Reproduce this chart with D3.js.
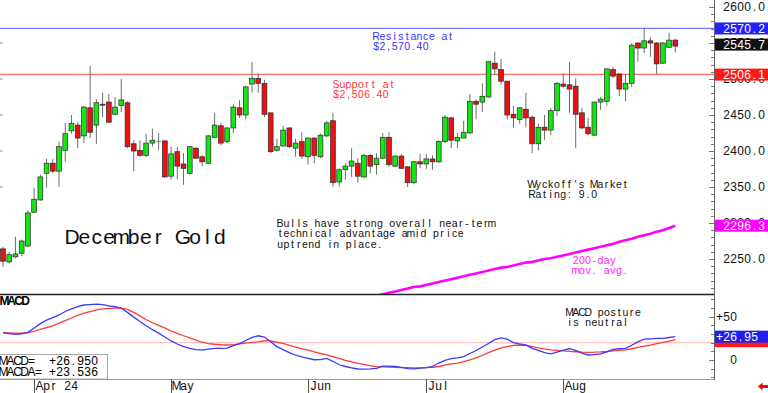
<html>
<head>
<script src="https://d3js.org/d3.v7.min.js"></script>
<style>
body { margin: 0; background: #fff; }
svg text { font-family: 'Liberation Sans', Arial, sans-serif; white-space: pre; }
</style>
</head>
<body>
<div id="chart"></div>
<script>
// daily bars, Mar 22 .. Aug 27 (index 0..108)
var opens  = [2264,2246,2253,2258,2268,2315,2332,2369,2383,2372, 2401,2428,2436,2421,2460,2436,2465,2468,2451,2463,
              2467,2410,2401,2394,2411,2414,2414,2365,2399,2382, 2369,2404,2392,2383,2419,2435,2413,2432,2460,2450,
              2493,2501,2494,2453,2401,2407,2432,2404,2413,2392, 2418,2392,2421,2442,2357,2374,2379,2383,2364,2394,
              2381,2390,2419,2379,2393,2378,2356,2385,2382,2389, 2385,2413,2446,2414,2418,2425,2469,2468,2475,2522,
              2513,2497,2451,2444,2458,2447,2410,2433,2429,2456, 2493,2492,2490,2453,2433,2422,2468,2469,2513,2507,
              2486,2494,2550,2543,2553,2550,2522,2544,2554];
var highs  = [2267,2260,2281,2277,2318,2349,2367,2389,2389,2413, 2439,2450,2440,2463,2518,2472,2481,2479,2475,2500,
              2469,2415,2415,2424,2431,2425,2415,2406,2406,2397, 2407,2405,2394,2422,2453,2439,2433,2465,2471,2490,
              2524,2508,2499,2453,2417,2435,2433,2417,2426,2419, 2419,2424,2442,2453,2376,2383,2404,2390,2396,2396,
              2397,2425,2426,2394,2396,2379,2386,2396,2396,2394, 2415,2450,2447,2425,2442,2479,2472,2494,2525,2538,
              2528,2497,2463,2461,2481,2449,2438,2450,2460,2496, 2508,2524,2501,2460,2446,2468,2475,2515,2517,2507,
              2507,2550,2551,2571,2558,2551,2551,2564,2556];
var lows   = [2239,2244,2251,2254,2267,2314,2331,2349,2369,2350, 2385,2424,2404,2411,2418,2410,2447,2439,2450,2454,
              2404,2372,2392,2392,2406,2401,2363,2360,2361,2353, 2367,2389,2379,2382,2418,2408,2411,2425,2446,2444,
              2481,2481,2447,2397,2399,2406,2404,2392,2389,2381, 2383,2390,2419,2350,2350,2360,2364,2356,2363,2369,
              2367,2389,2378,2378,2375,2350,2354,2376,2375,2374, 2383,2411,2404,2404,2418,2424,2444,2454,2474,2506,
              2492,2444,2432,2438,2433,2397,2401,2415,2422,2449, 2488,2453,2404,2430,2422,2421,2457,2463,2501,2476,
              2469,2489,2524,2536,2531,2507,2521,2544,2537];
var closes = [2247,2256,2257,2275,2314,2333,2364,2383,2372,2406, 2424,2438,2418,2461,2426,2467,2464,2440,2461,2471,
              2406,2400,2394,2411,2415,2414,2364,2396,2379,2376, 2406,2390,2385,2421,2436,2411,2432,2461,2450,2489,
              2501,2494,2451,2399,2406,2429,2406,2411,2393,2418, 2394,2422,2439,2356,2374,2379,2386,2365,2394,2379,
              2390,2419,2381,2393,2376,2356,2385,2382,2389,2385, 2413,2447,2415,2419,2426,2469,2465,2476,2524,2514,
              2497,2450,2446,2460,2446,2410,2433,2429,2456,2494, 2490,2486,2451,2432,2424,2468,2472,2514,2504,2486,
              2494,2547,2543,2553,2550,2521,2550,2554,2545.7];

// 200-day moving average, from bar 60 on
var maStart = 60;
var ma200 = [2199,2201,2203,2205,2207,2209,2211,2212,2214,2216, 2218,2220,2222,2224,2226,2228,2230,2232,2234,2236,
             2238,2239,2241,2243,2245,2246,2248,2250,2251,2253, 2255,2257,2259,2261,2263,2265,2267,2269,2271,2274,
             2276,2278,2281,2283,2285,2288,2290,2293,2296.3];

var macd = [31.5,30.5,29.7,30.3,32,37,42,46,49,52, 56,59,61.5,63.5,64,64.5,64,62.5,61.5,59.7,
            55,49.5,44.5,39.5,35,31,26.5,22,18.5,15.5, 13.5,12,11.5,12.5,13.5,13.5,13.8,16.5,19,22.5,
            26,28,26.5,21,15.5,12,8.5,5.5,3.5,2, 0.3,0.5,1.9,-1.5,-5.5,-7.5,-9,-10.4,-10.5,-10.2,
            -9.6,-7,-7,-7.5,-8.5,-10,-10.2,-9.5,-8.8,-7.5, -3.5,-0.5,1.5,2.5,4,7.5,11,15,19,23.5,
            25.5,24,20,18.5,17.5,13.5,11,8.5,7,9, 11.5,13,11,8,5.8,6.2,7,9.5,12.2,13,
            13.5,17,21,24,24.5,25,25,26,26.95];
var macdAvg = [31.5,31.2,31,31,31.5,33,35.5,37.5,39.5,42.5, 45.5,48.5,51.5,54,56,57.8,59,59.7,60,59.8,
               58.5,55,51,46.5,43,40,37,33.5,30.8,28, 25.5,23,20.5,19,18.2,17.6,17.3,17.5,18.5,19.5,
               20.3,21,22.2,22,20.5,19.2,17,15,13,11.3, 9.3,7.5,5.8,4,2,-0.5,-2.2,-3.8,-5,-6.5,
               -7.7,-8,-8.3,-8.6,-8.8,-8.9,-9,-9,-8.9,-8.5, -7.5,-6,-4.5,-3.5,-2,0,2.5,5.5,8.5,11.5,
               14,15.5,16.8,17.3,17,15.5,14,12.8,11.8,11.2, 10.5,10,9.5,9,8.9,9,9.3,9.8,10.5,11,
               11.8,13,14.5,16,17.3,18.8,20.3,21.9,23.536];
var macdRef = 20;

var monthLabels = ["Apr 24", "May", "Jun", "Jul", "Aug"];
var monthStart  = [5, 27, 49, 68, 90];

var priceTicks = [2600, 2550, 2500, 2450, 2400, 2350, 2300, 2250];
var macdTicks = [50, 0];

var resistance = 2570.4, support = 2506.4;
var resistanceTag = 2570.2, supportTag = 2506.1, lastClose = 2545.7, maLast = 2296.3;

// ---------------------------------------------------------------
var W = 768, H = 393;
var plotR = 714, priceBot = 294, macdTop = 294, macdBot = 379;

var svg = d3.select("#chart").append("svg").attr("width", W).attr("height", H);

var x = d3.scaleLinear().domain([0, opens.length - 1]).range([3, 675.3]);
var y = d3.scaleLinear().domain([2200, 2600]).range([295, 7]);
var ym = d3.scaleLinear().domain([0, 50]).range([360, 316.7]);

var defs = svg.append("defs");
defs.append("clipPath").attr("id", "clipP").append("rect")
  .attr("x", 0).attr("y", 0).attr("width", plotR).attr("height", priceBot);
defs.append("clipPath").attr("id", "clipM").append("rect")
  .attr("x", 0).attr("y", macdTop + 1).attr("width", plotR).attr("height", macdBot - macdTop - 1);

// each character sits in its own fixed cell, like the original plotter
function cellText(sel, str, x0, yy, cell, size, color, weight) {
  var xs = [];
  for (var k = 0; k < str.length; k++) xs.push((x0 + k * cell + cell / 2).toFixed(2));
  return sel.append("text")
    .attr("x", xs.join(" ")).attr("y", yy)
    .attr("text-anchor", "middle")
    .style("font-size", size + "px")
    .style("font-weight", weight || "normal")
    .style("fill", color)
    .text(str);
}

var gp = svg.append("g").attr("clip-path", "url(#clipP)");

// support / resistance
gp.append("line").attr("x1", 0).attr("x2", plotR).attr("y1", y(resistance)).attr("y2", y(resistance))
  .style("stroke", "#7474ff").style("stroke-width", 1.2);
gp.append("line").attr("x1", 0).attr("x2", plotR).attr("y1", y(support)).attr("y2", y(support))
  .style("stroke", "#ff6a6a").style("stroke-width", 1.2);

// left edge ticks
[2550, 2500, 2450, 2400, 2350].forEach(function(v) {
  svg.append("line").attr("x1", 0).attr("x2", 2.5).attr("y1", y(v)).attr("y2", y(v))
    .style("stroke", "#888");
});

// candles
var bars = d3.range(opens.length).map(function(i) {
  return {i: i, o: opens[i], h: highs[i], l: lows[i], c: closes[i]};
});

var cg = gp.selectAll(".bar").data(bars).enter().append("g").attr("class", "bar");

cg.append("line")
  .attr("x1", function(d) { return x(d.i); }).attr("x2", function(d) { return x(d.i); })
  .attr("y1", function(d) { return y(d.h); }).attr("y2", function(d) { return y(d.l); })
  .style("stroke", "#6e6e6e").style("stroke-width", 1);

cg.append("rect")
  .attr("x", function(d) { return x(d.i) - 2.4; })
  .attr("width", 4.8)
  .attr("y", function(d) { return y(Math.max(d.o, d.c)); })
  .attr("height", function(d) { return Math.max(1, Math.abs(y(d.o) - y(d.c))); })
  .style("fill", function(d) {
    if (d.c === d.o) return "#888";
    return d.c > d.o ? "#14e614" : "#e81212";
  })
  .style("stroke", function(d) { return d.c === d.o ? "none" : "#2a2a2a"; })
  .style("stroke-width", 0.7);

// 200-day MA
var maLine = d3.line()
  .x(function(d, k) { return x(maStart + k); })
  .y(function(d) { return y(d); });
gp.append("path").datum(ma200).attr("d", maLine)
  .style("fill", "none").style("stroke", "#ff00ff").style("stroke-width", 2.6);

// annotations
cellText(svg, "Resistance at", 373, 40, 6.2, 10.5, "#3434ff");
cellText(svg, "$2,570.40", 373, 50, 6.2, 10.5, "#3434ff");
cellText(svg, "Support at", 333, 87.5, 6.2, 10.5, "#ff3434");
cellText(svg, "$2,506.40", 333, 97.5, 6.2, 10.5, "#ff3434");
cellText(svg, "Wyckoff's Market", 529, 187.5, 6.2, 10.5, "#111");
cellText(svg, "Rating: 9.0", 529, 197.5, 6.2, 10.5, "#111");
cellText(svg, "Bulls have strong overall near-term", 277, 227, 6.23, 10.5, "#111");
cellText(svg, "technical advantage amid price", 277, 237.3, 6.23, 10.5, "#111");
cellText(svg, "uptrend in place.", 277, 247.6, 6.23, 10.5, "#111");
cellText(svg, "December Gold", 66, 243.5, 12.3, 21, "#111");
cellText(svg, "200-day", 572.5, 263.5, 6.2, 10.5, "#ff22ff");
cellText(svg, "mov. avg.", 572.5, 274, 6.2, 10.5, "#ff22ff");

// MACD panel
var gm = svg.append("g").attr("clip-path", "url(#clipM)");
gm.append("line").attr("x1", 0).attr("x2", plotR).attr("y1", ym(macdRef)).attr("y2", ym(macdRef))
  .style("stroke", "#ffb4b4").style("stroke-width", 1);

var mLine = d3.line().x(function(d, k) { return x(k); }).y(function(d) { return ym(d); });
gm.append("path").datum(macdAvg).attr("d", mLine)
  .style("fill", "none").style("stroke", "#ff3a3a").style("stroke-width", 1.3);
gm.append("path").datum(macd).attr("d", mLine)
  .style("fill", "none").style("stroke", "#3a3aff").style("stroke-width", 1.3);

cellText(svg, "MACD", 1, 305, 7, 12, "#000", "bold");
cellText(svg, "MACD posture", 566.5, 315.5, 6.2, 10.5, "#111");
cellText(svg, "is neutral", 566.5, 325.5, 6.2, 10.5, "#111");

svg.append("rect").attr("x", -1).attr("y", 354.5).attr("width", 108.5).attr("height", macdBot - 354.5)
  .style("fill", "#fff").style("stroke", "#a8a8a8");
cellText(svg, "MACD=  " + "+" + macd[macd.length - 1].toFixed(3), 0, 364.5, 7, 12, "#000");
cellText(svg, "MACDA= " + "+" + macdAvg[macdAvg.length - 1].toFixed(3), 0, 375.5, 7, 12, "#000");

// panel frames
svg.append("line").attr("x1", 0).attr("x2", plotR).attr("y1", priceBot + 0.5).attr("y2", priceBot + 0.5)
  .style("stroke", "#222").style("stroke-width", 1.6);
svg.append("line").attr("x1", 0).attr("x2", plotR).attr("y1", macdBot + 0.5).attr("y2", macdBot + 0.5)
  .style("stroke", "#9a9a9a").style("stroke-width", 1);
svg.append("line").attr("x1", plotR + 0.5).attr("x2", plotR + 0.5).attr("y1", 0).attr("y2", macdBot + 1)
  .style("stroke", "#666").style("stroke-width", 1);

// right axis minor ticks
d3.range(2210, 2610, 10).forEach(function(v) {
  var len = v % 50 === 0 ? 5 : 3;
  svg.append("line").attr("x1", plotR - len).attr("x2", plotR).attr("y1", Math.round(y(v)) + 0.5).attr("y2", Math.round(y(v)) + 0.5)
    .style("stroke", "#777");
});
d3.range(-20, 80, 10).forEach(function(v) {
  var len = v % 50 === 0 ? 5 : 3;
  svg.append("line").attr("x1", plotR - len).attr("x2", plotR).attr("y1", Math.round(ym(v)) + 0.5).attr("y2", Math.round(ym(v)) + 0.5)
    .style("stroke", "#777");
});

// right axis labels
priceTicks.forEach(function(v) {
  cellText(svg, v.toFixed(1), 723, y(v) + 4.3, 7, 12, "#111");
});
macdTicks.forEach(function(v) {
  var s = v > 0 ? "+" + v : "" + v;
  cellText(svg, s, 737 - s.length * 7, ym(v) + 4.3, 7, 12, "#111");
});

// value tags
function tag(yy, txt, bg, x0) {
  svg.append("rect").attr("x", 715).attr("y", yy - 6).attr("width", W - 715).attr("height", 12)
    .style("fill", bg);
  if (txt) cellText(svg, txt, x0, yy + 4.3, 7, 12, "#fff");
}
tag(y(resistanceTag), resistanceTag.toFixed(1), "#2222ff", 723);
tag(y(lastClose) - 1.5, lastClose.toFixed(1), "#111", 723);
tag(y(supportTag), supportTag.toFixed(1), "#ff1a1a", 723);
tag(y(maLast), maLast.toFixed(1), "#ff00ff", 723);
// signal tag sits under the MACD tag, only its lower edge shows
tag(ym(macdAvg[macdAvg.length - 1]) + 1.5, null, "#ff1a1a", 716);
tag(ym(macd[macd.length - 1]), "+" + macd[macd.length - 1].toFixed(2), "#2020ee", 716);

// months
monthStart.forEach(function(idx, k) {
  var xt = Math.round(x(idx)) + 0.5;
  svg.append("line").attr("x1", xt).attr("x2", xt).attr("y1", macdBot).attr("y2", H)
    .style("stroke", "#555");
  cellText(svg, monthLabels[k], xt + 1.5, 390, 7, 12, "#111");
});

// little scroll arrow
svg.append("path").attr("d", "M758,386.5 L762.5,382.5 L762.5,385 L768,385 L768,388 L762.5,388 L762.5,390.5 Z")
  .style("fill", "#e01010");
</script>
</body>
</html>
